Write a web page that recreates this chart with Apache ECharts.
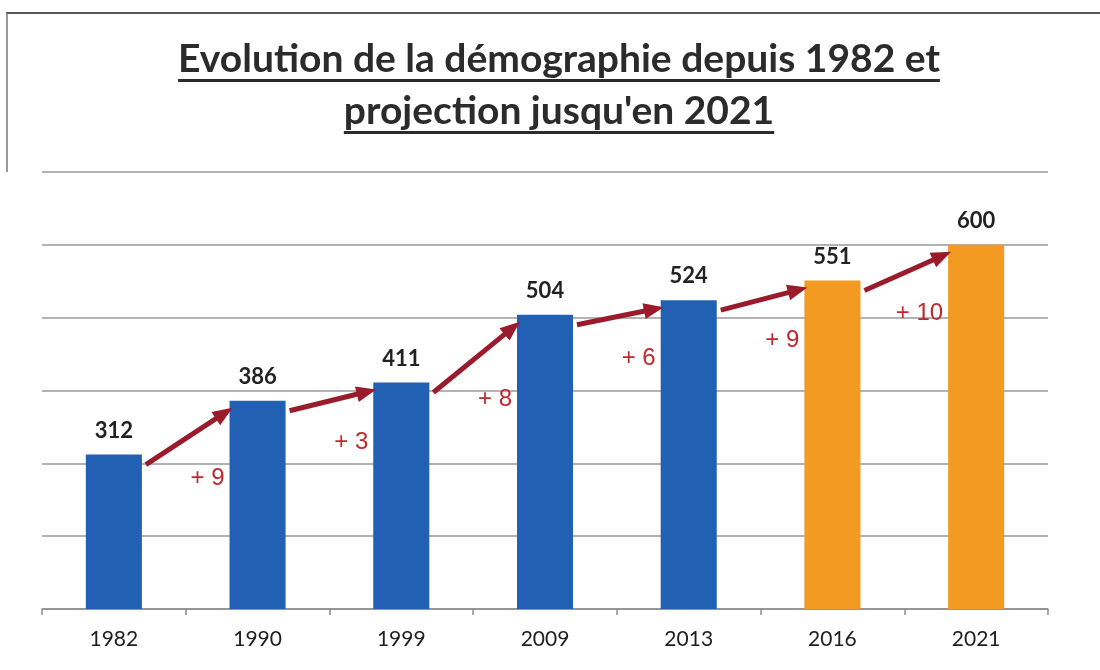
<!DOCTYPE html>
<html>
<head>
<meta charset="utf-8">
<script src="https://cdn.jsdelivr.net/npm/echarts@6/dist/echarts.min.js"></script>
<style>
  html, body { margin: 0; padding: 0; background: #ffffff; }
  #chart { width: 1100px; height: 670px; }
</style>
</head>
<body>
<div id="chart"></div>
<script>
// ---- data ----
const titleLines = ["Evolution de la démographie depuis 1982 et", "projection jusqu'en 2021"];
const categories = ['1982', '1990', '1999', '2009', '2013', '2016', '2021'];
const population = [312, 386, 411, 504, 524, 551, 600];
const growthLabels = ['+ 9', '+ 3', '+ 8', '+ 6', '+ 9', '+ 10'];
const firstProjectedIndex = 5; // 2016 and 2021 drawn in orange
const yMin = 100, yMax = 700, yStep = 100;

// ---- styles ----
const BLUE = '#2160b2';
const ORANGE = '#f29a22';
const ARROW = '#9a1c2c';
const DELTA = '#c0282f';
const TITLE_FONT = 'Lato';
const TITLE_SIZE = 39;

const chart = echarts.init(document.getElementById('chart'));

function textWidth(text, font) {
  const ctx = document.createElement('canvas').getContext('2d');
  ctx.font = font;
  return ctx.measureText(text).width;
}

const titleCenterX = 559;
const titleYs = [59, 111];
const underlineYs = [79, 131];
const titleGraphics = [];
titleLines.forEach((t, k) => {
  const w = textWidth(t, 'bold ' + TITLE_SIZE + 'px ' + TITLE_FONT);
  titleGraphics.push({
    type: 'text', x: titleCenterX, y: titleYs[k],
    style: { text: t, fill: '#2b2b2b', font: 'bold ' + TITLE_SIZE + 'px ' + TITLE_FONT, textAlign: 'center', textVerticalAlign: 'middle' }
  });
  titleGraphics.push({
    type: 'rect', shape: { x: titleCenterX - w / 2, y: underlineYs[k], width: w, height: 3 },
    style: { fill: '#2b2b2b' }
  });
});
// scanned page frame
titleGraphics.push({ type: 'line', shape: { x1: 6, y1: 13, x2: 1100, y2: 13 }, style: { stroke: '#555', lineWidth: 2 } });
titleGraphics.push({ type: 'line', shape: { x1: 7, y1: 13, x2: 7, y2: 172 }, style: { stroke: '#777', lineWidth: 1.5 } });

const barData = population.map((v, i) => ({
  value: v,
  itemStyle: { color: i >= firstProjectedIndex ? ORANGE : BLUE }
}));

const arrowData = growthLabels.map((lab, i) => [i, population[i], population[i + 1], lab]);

function renderArrow(params, api) {
  const i = api.value(0);
  const v0 = api.value(1), v1 = api.value(2);
  const lab = growthLabels[params.dataIndex];
  const p0 = api.coord([i, v0]);
  const p1 = api.coord([i + 1, v1]);
  const bw = api.size([1, 0])[0] * 0.39;
  const sx = p0[0] + bw / 2 + 4, sy = p0[1] + 10;
  const ex = p1[0] - bw / 2 + 3, ey = p1[1] + 7;
  const dx = ex - sx, dy = ey - sy;
  const len = Math.sqrt(dx * dx + dy * dy);
  const ux = dx / len, uy = dy / len;
  const headL = 20, headW = 8;
  const bx = ex - ux * headL, by = ey - uy * headL;
  const nx = -uy, ny = ux;
  const midY = (sy + ey) / 2;
  return {
    type: 'group',
    children: [
      { type: 'line', shape: { x1: sx, y1: sy, x2: bx + ux * 2, y2: by + uy * 2 }, style: { stroke: ARROW, lineWidth: 5 } },
      { type: 'polygon', shape: { points: [[ex, ey], [bx + nx * headW, by + ny * headW], [bx - nx * headW, by - ny * headW]] }, style: { fill: ARROW } },
      { type: 'text', x: p1[0] - bw / 2 - 5, y: midY + 42,
        style: { text: lab, fill: DELTA, font: '24px "Liberation Sans", Arial, sans-serif', textAlign: 'right', textVerticalAlign: 'middle' } }
    ]
  };
}

chart.setOption({
  backgroundColor: '#ffffff',
  animation: false,
  graphic: titleGraphics,
  grid: { left: 42, right: 52, top: 172, bottom: 61 },
  xAxis: {
    type: 'category',
    data: categories,
    axisLine: { lineStyle: { color: '#8c8c8c', width: 1.5 } },
    axisTick: { show: true, length: 6, lineStyle: { color: '#8c8c8c', width: 1.5 } },
    axisLabel: { color: '#1e1e1e', fontFamily: 'Lato', fontSize: 21, margin: 20 }
  },
  yAxis: {
    type: 'value',
    min: yMin, max: yMax, interval: yStep,
    axisLine: { show: false },
    axisTick: { show: false },
    axisLabel: { show: false },
    splitLine: { lineStyle: { color: '#9a9a9a', width: 1.5 } }
  },
  series: [
    {
      type: 'bar',
      data: barData,
      barWidth: '39%',
      label: {
        show: true, position: 'top', distance: 13,
        color: '#222', fontFamily: 'Lato', fontWeight: 'bold', fontSize: 22
      },
      z: 2
    },
    {
      type: 'custom',
      renderItem: renderArrow,
      data: arrowData,
      encode: { x: 0, y: 1 },
      z: 5,
      silent: true
    }
  ]
});
</script>
</body>
</html>
